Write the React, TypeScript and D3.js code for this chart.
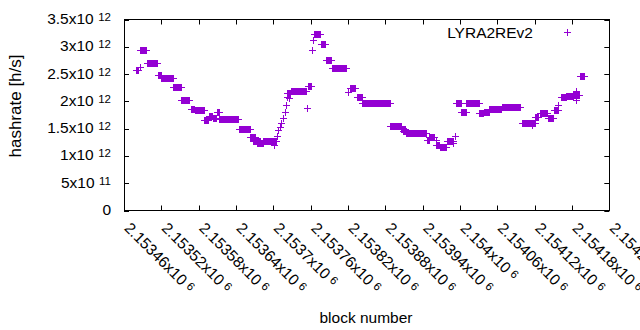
import React from "react";
import * as d3 from "d3";

// Runs of consecutive blocks with the same hashrate estimate (single points have start === end)
const runStart = [
  2153480, 2153485, 2153486, 2153497, 2153515, 2153520, 2153539, 2153552, 2153567, 2153574,
  2153589, 2153596, 2153603, 2153609, 2153613, 2153620, 2153645, 2153663, 2153668, 2153674,
  2153684, 2153701, 2153706, 2153707, 2153710, 2153712, 2153715, 2153718, 2153720, 2153722,
  2153722, 2153726, 2153728, 2153754, 2153755, 2153762, 2153763, 2153766, 2153776, 2153784,
  2153795, 2153820, 2153824, 2153834, 2153843, 2153888, 2153906, 2153909, 2153914, 2153947,
  2153951, 2153961, 2153962, 2153968, 2153979, 2153989, 2153992, 2153994, 2154002, 2154010,
  2154031, 2154038, 2154047, 2154067, 2154099, 2154115, 2154121, 2154128, 2154141, 2154151,
  2154158, 2154162, 2154171, 2154182, 2154186, 2154186, 2154193,
];
const runEnd = [
  2153483, 2153485, 2153496, 2153513, 2153519, 2153538, 2153551, 2153565, 2153573, 2153588,
  2153595, 2153602, 2153608, 2153612, 2153619, 2153644, 2153662, 2153671, 2153678, 2153683,
  2153705, 2153701, 2153706, 2153707, 2153710, 2153712, 2153715, 2153718, 2153720, 2153727,
  2153722, 2153726, 2153752, 2153754, 2153761, 2153762, 2153763, 2153775, 2153783, 2153793,
  2153817, 2153820, 2153832, 2153842, 2153887, 2153905, 2153911, 2153913, 2153945, 2153950,
  2153959, 2153961, 2153967, 2153977, 2153988, 2153989, 2153992, 2154001, 2154009, 2154030,
  2154037, 2154046, 2154066, 2154097, 2154120, 2154115, 2154125, 2154140, 2154150, 2154157,
  2154158, 2154170, 2154181, 2154192, 2154186, 2154186, 2154200,
];
const runValue = [
  2.575e12, 2.63e12, 2.936e12, 2.697e12, 2.483e12, 2.419e12, 2.254e12, 2.019e12, 1.869e12, 1.833e12,
  1.653e12, 1.726e12, 1.686e12, 1.8e12, 1.677e12, 1.671e12, 1.494e12, 1.341e12, 1.274e12, 1.242e12,
  1.274e12, 1.2e12, 1.36e12, 1.47e12, 1.53e12, 1.603e12, 1.69e12, 1.796e12, 1.933e12, 2.162e12,
  2.071e12, 2.056e12, 2.184e12, 1.878e12, 2.281e12, 2.936e12, 3.124e12, 3.229e12, 3.051e12, 2.758e12,
  2.606e12, 2.177e12, 2.245e12, 2.08e12, 1.964e12, 1.548e12, 1.494e12, 1.462e12, 1.426e12, 1.292e12,
  1.338e12, 1.292e12, 1.2e12, 1.164e12, 1.279e12, 1.237e12, 1.374e12, 1.964e12, 1.811e12, 1.964e12,
  1.781e12, 1.805e12, 1.855e12, 1.891e12, 1.609e12, 1.558e12, 1.713e12, 1.778e12, 1.695e12, 1.842e12,
  1.933e12, 2.071e12, 2.098e12, 2.117e12, 2.19e12, 2.025e12, 2.461e12,
];

const xTicks = d3.range(2153460, 2154241, 60);
const yTicks = [0, 0.5e12, 1e12, 1.5e12, 2e12, 2.5e12, 3e12, 3.5e12];
const seriesName = "LYRA2REv2";
const xTitle = "block number";
const yTitle = "hashrate [h/s]";

const W = 640, H = 330;
const M = { left: 124, right: 609.3, top: 19.5, bottom: 210.5 };
const COLOR = "#9400d3";
const FONT = "'Liberation Sans', Arial, sans-serif";
const FS = 15.5;
const SUP = 11.5;

function sci(v: number): [string, string | null] {
  if (v === 0) return ["0", null];
  const e = Math.floor(Math.log10(v) + 1e-9);
  const m = parseFloat((v / Math.pow(10, e)).toPrecision(6));
  return [`${m}x10`, String(e)];
}

export default function App() {
  const x = d3.scaleLinear().domain([2153460, 2154240]).range([M.left, M.right]);
  const y = d3.scaleLinear().domain([0, 3.5e12]).range([M.bottom, M.top]);
  const tl = 5;

  const marks = runStart.map((s, i) => {
    const x1 = Math.round(x(s));
    const x2 = Math.round(x(runEnd[i]));
    const cy = Math.round(y(runValue[i]));
    return (
      <g key={i}>
        <rect x={x1} y={cy - 3} width={x2 - x1 + 1} height={7} fill={COLOR} />
        <rect x={x1 - 3} y={cy} width={x2 - x1 + 7} height={1} fill={COLOR} />
      </g>
    );
  });

  return (
    <svg width={W} height={H} style={{ position: "absolute", left: 0, top: 0 }} fontFamily={FONT}>
      <rect x={0} y={0} width={W} height={H} fill="#fff" />
      {/* ticks */}
      {yTicks.map((t, i) => {
        const yy = Math.round(y(t)) + 0.5;
        return (
          <g key={"yt" + i}>
            <line x1={M.left} x2={M.left + tl} y1={yy} y2={yy} stroke="#000" />
            <line x1={M.right} x2={M.right - tl} y1={yy} y2={yy} stroke="#000" />
          </g>
        );
      })}
      {xTicks.map((t, i) => {
        const xx = Math.round(x(t)) + 0.5;
        return (
          <g key={"xt" + i}>
            <line x1={xx} x2={xx} y1={M.bottom} y2={M.bottom - tl} stroke="#000" />
            <line x1={xx} x2={xx} y1={M.top} y2={M.top + tl} stroke="#000" />
          </g>
        );
      })}
      {/* y labels */}
      {yTicks.map((t, i) => {
        const [m, e] = sci(t);
        return (
          <text key={"yl" + i} x={111} y={y(t) + 4.5} textAnchor="end" fontSize={FS} fill="#000">
            <tspan>{m}</tspan>
            {e && (
              <tspan dx={4.5} dy={-3} fontSize={SUP}>
                {e}
              </tspan>
            )}
          </text>
        );
      })}
      {/* x labels */}
      {xTicks.map((t, i) => {
        const [m, e] = sci(t);
        const xx = x(t) - 0.5;
        return (
          <text key={"xl" + i} transform={`translate(${xx},229) rotate(45)`} fontSize={FS} fill="#000">
            <tspan>{m}</tspan>
            {e && (
              <tspan dx={4} dy={-3} fontSize={SUP}>
                {e}
              </tspan>
            )}
          </text>
        );
      })}
      {/* data */}
      {marks}
      {/* border */}
      <rect
        x={M.left + 0.5}
        y={M.top}
        width={Math.round(M.right - M.left)}
        height={M.bottom - M.top}
        fill="none"
        stroke="#000"
      />
      {/* legend */}
      <text x={533} y={37.5} textAnchor="end" fontSize={FS} fill="#000">
        {seriesName}
      </text>
      <rect x={567} y={29} width={1} height={7} fill={COLOR} />
      <rect x={564} y={32} width={7} height={1} fill={COLOR} />
      {/* axis titles */}
      <text x={366} y={323} textAnchor="middle" fontSize={FS} fill="#000">
        {xTitle}
      </text>
      <text transform={`translate(21,106) rotate(-90)`} textAnchor="middle" fontSize={17} fill="#000">
        {yTitle}
      </text>
    </svg>
  );
}
